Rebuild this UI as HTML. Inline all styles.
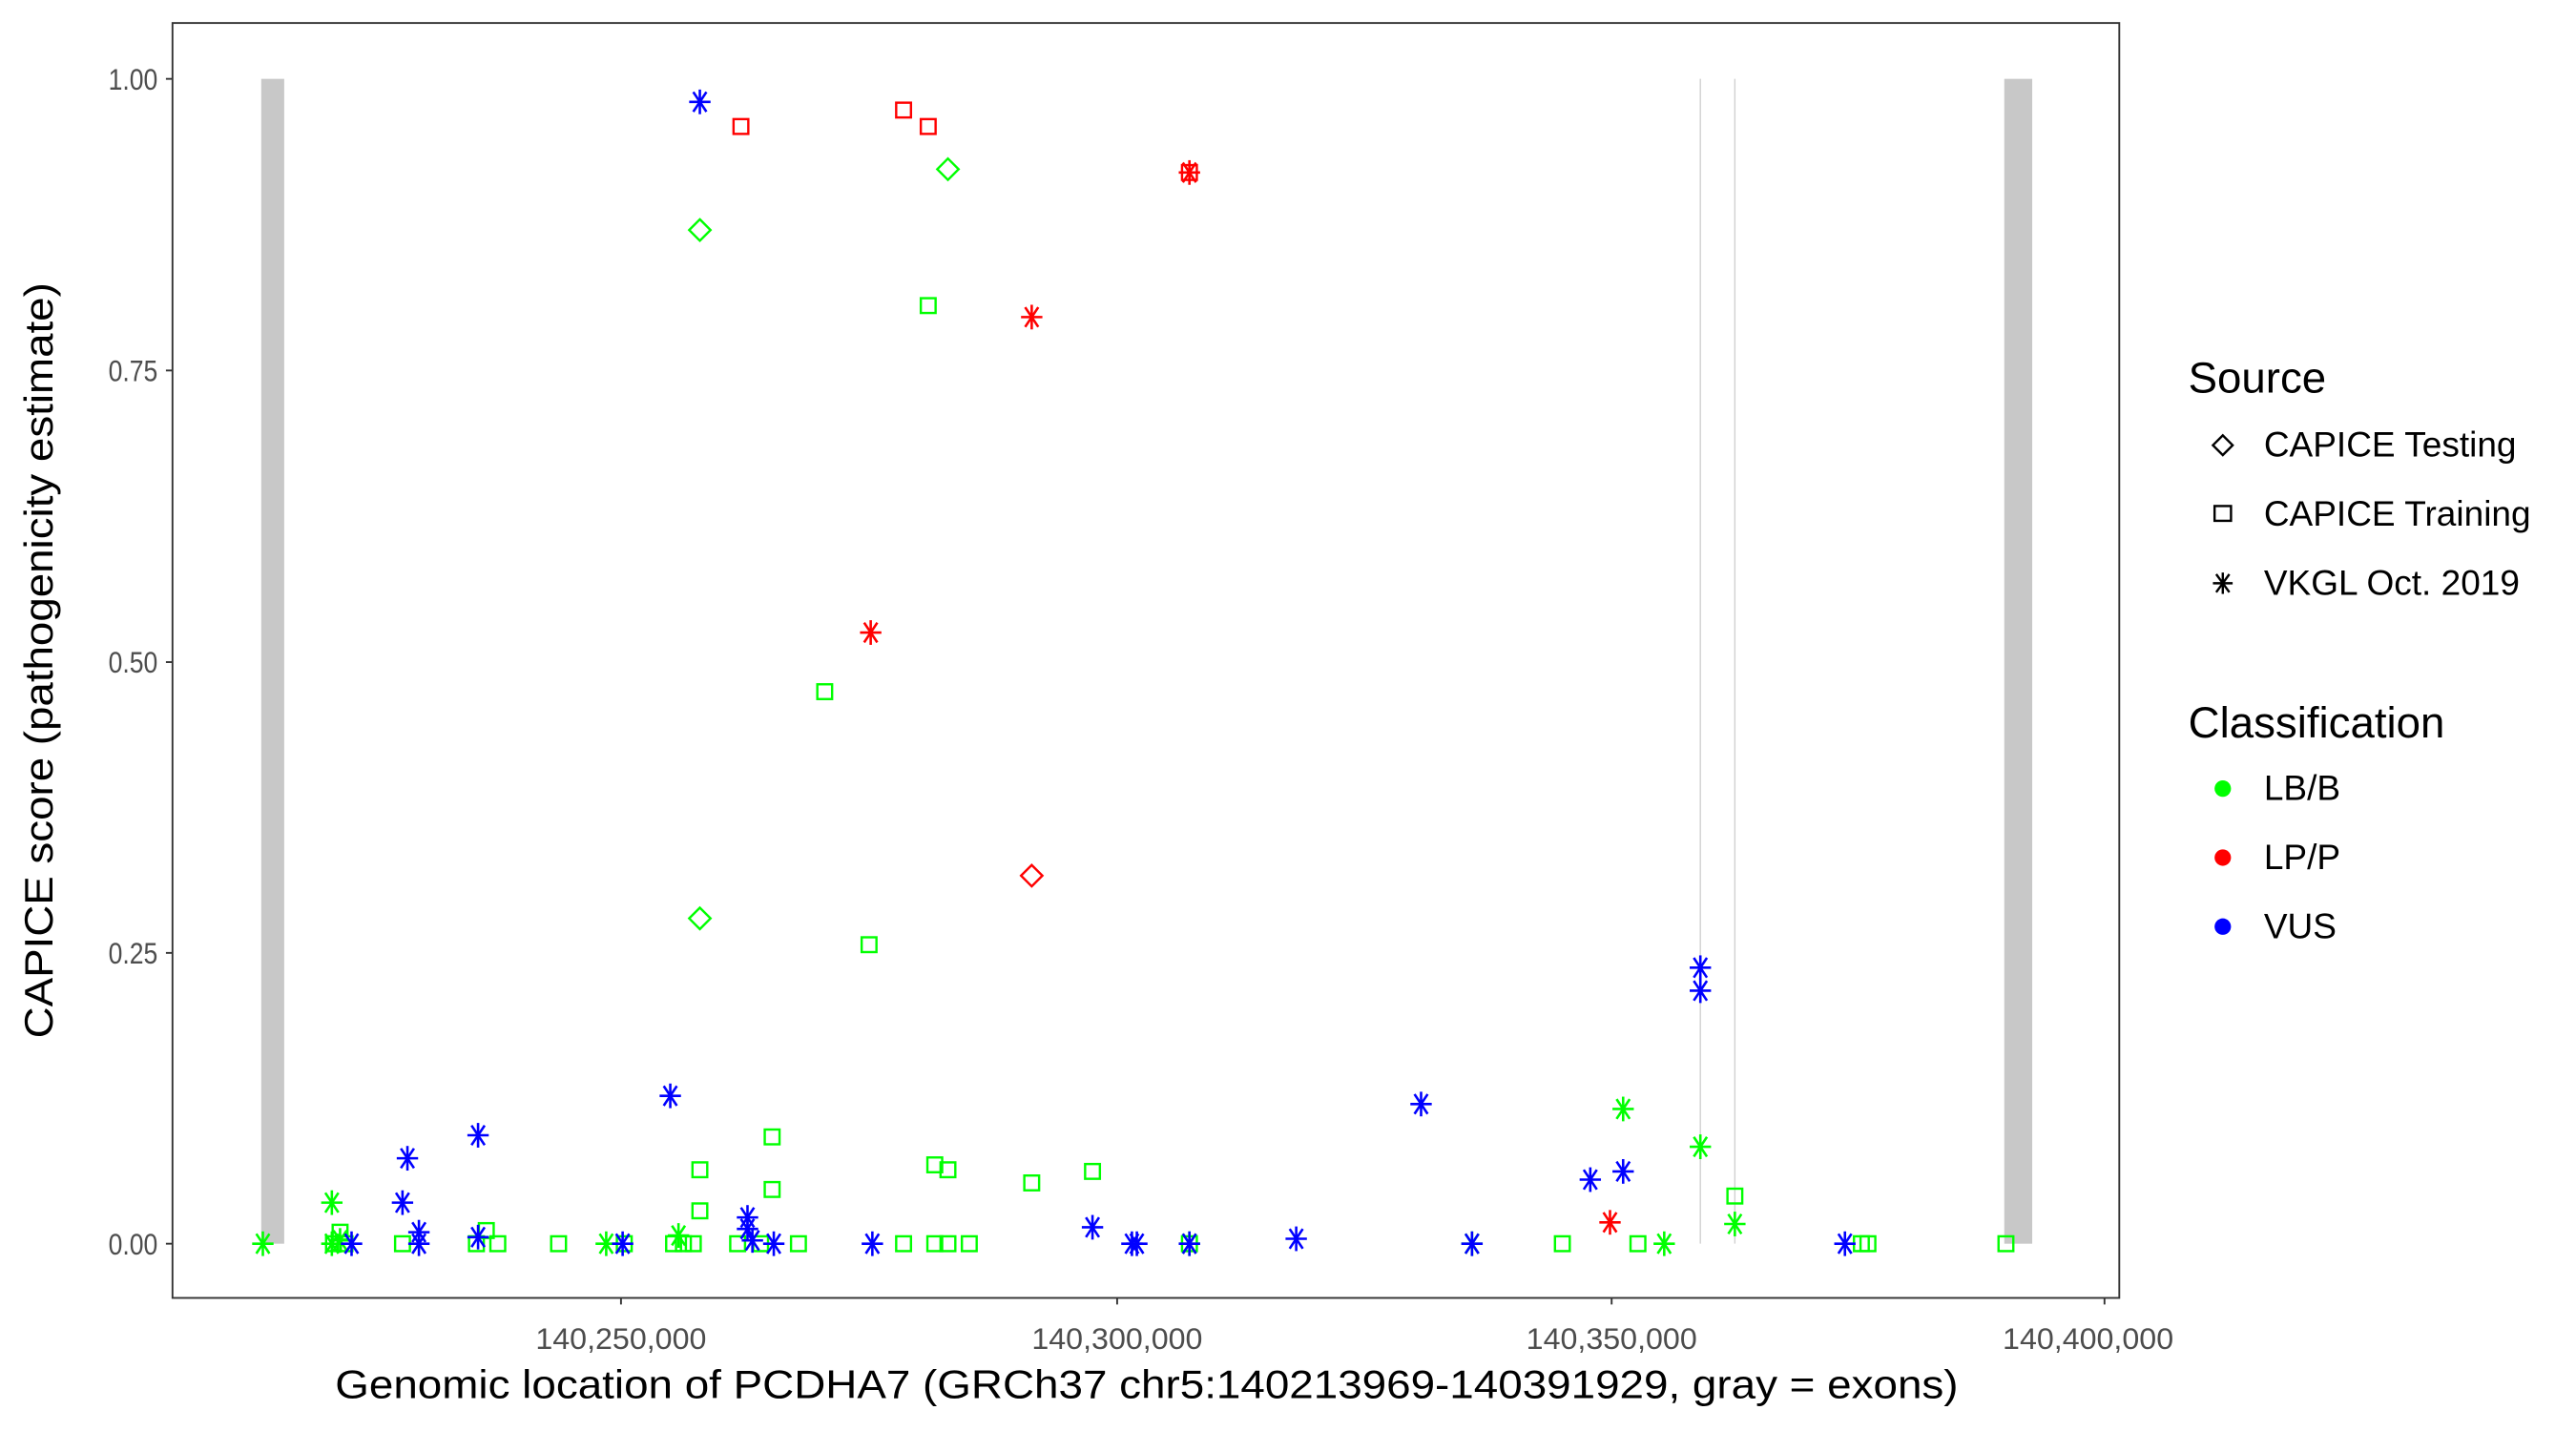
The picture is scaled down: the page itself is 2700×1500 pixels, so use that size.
<!DOCTYPE html>
<html><head><meta charset="utf-8"><style>html,body{margin:0;padding:0;background:#fff}svg{display:block}</style></head>
<body>
<svg width="2700" height="1500" viewBox="0 0 1568 871" preserveAspectRatio="none" xmlns="http://www.w3.org/2000/svg" font-family="Liberation Sans, sans-serif">
<defs>
<g id="ast" fill="none" stroke-width="1.5"><line x1="0" y1="-7.5" x2="0" y2="7.5"/><line x1="-6.5" y1="0" x2="6.5" y2="0"/><line x1="-4" y1="-6" x2="4" y2="6"/><line x1="-4" y1="6" x2="4" y2="-6"/></g>
<g id="sq" fill="none" stroke-width="1.4"><rect x="-4.5" y="-4.5" width="9" height="9"/></g>
<g id="dm" fill="none" stroke-width="1.4"><polygon points="0,-6.5 6.5,0 0,6.5 -6.5,0"/></g>
</defs>
<rect x="0" y="0" width="1568" height="871" fill="#fff"/>
<rect x="159" y="48" width="14" height="709" fill="#c8c8c8"/>
<rect x="1220" y="48" width="17" height="709" fill="#c8c8c8"/>
<line x1="1035" y1="48" x2="1035" y2="757" stroke="#d0d0d0" stroke-width="0.8"/>
<line x1="1056" y1="48" x2="1056" y2="757" stroke="#d0d0d0" stroke-width="0.8"/>
<g stroke="#00ff00">
<use href="#sq" x="565" y="186"/><use href="#sq" x="502" y="421"/><use href="#sq" x="529" y="575"/><use href="#sq" x="470" y="692"/><use href="#sq" x="426" y="712"/><use href="#sq" x="569" y="709"/><use href="#sq" x="577" y="712"/><use href="#sq" x="470" y="724"/><use href="#sq" x="628" y="720"/><use href="#sq" x="665" y="713"/><use href="#sq" x="1056" y="728"/><use href="#sq" x="426" y="737"/><use href="#sq" x="296" y="749"/><use href="#sq" x="207" y="750"/><use href="#sq" x="203" y="757"/><use href="#sq" x="210" y="757"/><use href="#sq" x="245" y="757"/><use href="#sq" x="340" y="757"/><use href="#sq" x="303" y="757"/><use href="#sq" x="290" y="757"/><use href="#sq" x="380" y="757"/><use href="#sq" x="410" y="757"/><use href="#sq" x="416" y="757"/><use href="#sq" x="422" y="757"/><use href="#sq" x="449" y="757"/><use href="#sq" x="486" y="757"/><use href="#sq" x="550" y="757"/><use href="#sq" x="569" y="757"/><use href="#sq" x="577" y="757"/><use href="#sq" x="590" y="757"/><use href="#sq" x="951" y="757"/><use href="#sq" x="997" y="757"/><use href="#sq" x="1133" y="757"/><use href="#sq" x="1137" y="757"/><use href="#sq" x="1221" y="757"/><use href="#sq" x="724" y="757"/><use href="#sq" x="463" y="757"/>
</g>
<g stroke="#00ff00">
<use href="#dm" x="577" y="103"/><use href="#dm" x="426" y="140"/><use href="#dm" x="426" y="559"/>
<use href="#ast" x="160" y="757"/><use href="#ast" x="202" y="732"/><use href="#ast" x="202" y="757"/><use href="#ast" x="207" y="755"/><use href="#ast" x="369" y="757"/><use href="#ast" x="413" y="752"/><use href="#ast" x="988" y="675"/><use href="#ast" x="1035" y="698"/><use href="#ast" x="1056" y="745"/><use href="#ast" x="1013" y="757"/><use href="#ast" x="896" y="757"/><use href="#ast" x="724" y="757"/>
</g>
<g stroke="#0000ff">
<use href="#ast" x="426" y="62"/><use href="#ast" x="408" y="667"/><use href="#ast" x="248" y="705"/><use href="#ast" x="291" y="691"/><use href="#ast" x="245" y="732"/><use href="#ast" x="255" y="750"/><use href="#ast" x="865" y="672"/><use href="#ast" x="968" y="718"/><use href="#ast" x="988" y="713"/><use href="#ast" x="1035" y="589"/><use href="#ast" x="1035" y="603"/><use href="#ast" x="665" y="747"/><use href="#ast" x="455" y="741"/><use href="#ast" x="455" y="748"/><use href="#ast" x="1123" y="757"/><use href="#ast" x="789" y="754"/><use href="#ast" x="689" y="757"/><use href="#ast" x="724" y="757"/><use href="#ast" x="531" y="757"/><use href="#ast" x="471" y="757"/><use href="#ast" x="379" y="757"/><use href="#ast" x="214" y="757"/><use href="#ast" x="255" y="757"/><use href="#ast" x="291" y="753"/><use href="#ast" x="458" y="755"/><use href="#ast" x="692" y="757"/><use href="#ast" x="896" y="757"/>
</g>
<g stroke="#ff0000">
<use href="#sq" x="451" y="77"/><use href="#sq" x="550" y="67"/><use href="#sq" x="565" y="77"/><use href="#sq" x="724" y="105"/>
<use href="#ast" x="724" y="105"/><use href="#ast" x="628" y="193"/><use href="#ast" x="530" y="385"/><use href="#ast" x="980" y="744"/>
<use href="#dm" x="628" y="533"/>
</g>
<rect x="105" y="14" width="1185" height="776" fill="none" stroke="#333" stroke-width="1.1"/>
<g stroke="#333" stroke-width="1.1">
<line x1="101" y1="48" x2="105" y2="48"/><line x1="101" y1="225.5" x2="105" y2="225.5"/><line x1="101" y1="403" x2="105" y2="403"/><line x1="101" y1="580" x2="105" y2="580"/><line x1="101" y1="757" x2="105" y2="757"/>
<line x1="378" y1="790" x2="378" y2="794"/><line x1="680" y1="790" x2="680" y2="794"/><line x1="981" y1="790" x2="981" y2="794"/><line x1="1281" y1="790" x2="1281" y2="794"/>
</g>
<g fill="#4d4d4d" font-size="18.5" text-anchor="end">
<text x="96" y="54.5" textLength="30" lengthAdjust="spacingAndGlyphs">1.00</text><text x="96" y="232" textLength="30" lengthAdjust="spacingAndGlyphs">0.75</text><text x="96" y="409.5" textLength="30" lengthAdjust="spacingAndGlyphs">0.50</text><text x="96" y="586.5" textLength="30" lengthAdjust="spacingAndGlyphs">0.25</text><text x="96" y="763.5" textLength="30" lengthAdjust="spacingAndGlyphs">0.00</text>
</g>
<g fill="#4d4d4d" font-size="18.5" text-anchor="middle">
<text x="378" y="821" textLength="104" lengthAdjust="spacingAndGlyphs">140,250,000</text><text x="680" y="821" textLength="104" lengthAdjust="spacingAndGlyphs">140,300,000</text><text x="981" y="821" textLength="104" lengthAdjust="spacingAndGlyphs">140,350,000</text><text x="1271" y="821" textLength="104" lengthAdjust="spacingAndGlyphs">140,400,000</text>
</g>
<text x="698" y="851" font-size="24" text-anchor="middle" fill="#000" textLength="988" lengthAdjust="spacingAndGlyphs">Genomic location of PCDHA7 (GRCh37 chr5:140213969-140391929, gray = exons)</text>
<text transform="translate(32,402) rotate(-90)" font-size="24" text-anchor="middle" fill="#000" textLength="460" lengthAdjust="spacingAndGlyphs">CAPICE score (pathogenicity estimate)</text>
<text x="1332" y="239" font-size="26.5">Source</text>
<g stroke="#000" fill="none" stroke-width="1.4">
<polygon points="1353,265 1359,271 1353,277 1347,271"/>
<rect x="1348" y="308" width="10" height="9"/>
<g transform="translate(1353,355)"><line x1="-6" y1="0" x2="6" y2="0"/><line x1="-4" y1="-5.5" x2="4" y2="5.5"/><line x1="-4" y1="5.5" x2="4" y2="-5.5"/><line x1="0" y1="-6.5" x2="0" y2="6.5"/></g>
</g>
<g font-size="21.5" fill="#000">
<text x="1378" y="278">CAPICE Testing</text><text x="1378" y="320">CAPICE Training</text><text x="1378" y="362">VKGL Oct. 2019</text>
</g>
<text x="1332" y="449" font-size="26.5">Classification</text>
<circle cx="1353" cy="480" r="5" fill="#00ff00"/><circle cx="1353" cy="522" r="5" fill="#ff0000"/><circle cx="1353" cy="564" r="5" fill="#0000ff"/>
<g font-size="21.5" fill="#000">
<text x="1378" y="487">LB/B</text><text x="1378" y="529">LP/P</text><text x="1378" y="571">VUS</text>
</g>
</svg>
</body></html>
